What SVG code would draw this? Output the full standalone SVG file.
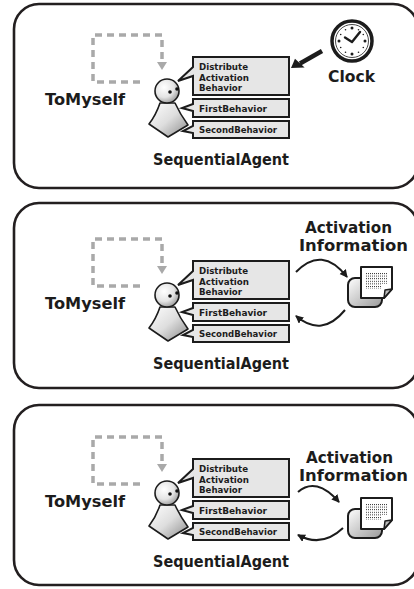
<svg xmlns="http://www.w3.org/2000/svg" width="414" height="589" viewBox="0 0 414 589">
  <style>
    .panel { fill: #ffffff; stroke: #231f20; stroke-width: 2.6; }
    .label { font-family: "DejaVu Sans", "Liberation Sans", sans-serif; font-weight: bold; fill: #1c1c1c; }
    .big { font-size: 16px; }
    .small { font-size: 9px; }
    .box { fill: #e6e6e6; stroke: #1c1c1c; stroke-width: 2; stroke-linejoin: miter; }
    .loop { fill: none; stroke: #a9a9a9; stroke-width: 3.5; stroke-dasharray: 7 5; }
    .flow { fill: none; stroke: #1c1c1c; stroke-width: 2; marker-end: url(#head); }
  </style>
  <defs>
    <radialGradient id="headFill" cx="0.38" cy="0.35" r="0.75">
      <stop offset="0" stop-color="#ffffff"/>
      <stop offset="0.55" stop-color="#e4e4e4"/>
      <stop offset="1" stop-color="#8c8c8c"/>
    </radialGradient>
    <linearGradient id="bodyFill" x1="0" y1="0" x2="1" y2="1">
      <stop offset="0" stop-color="#ffffff"/>
      <stop offset="0.5" stop-color="#dedede"/>
      <stop offset="1" stop-color="#8a8a8a"/>
    </linearGradient>
    <linearGradient id="sheetFill" x1="0" y1="0" x2="1" y2="1">
      <stop offset="0" stop-color="#ffffff"/>
      <stop offset="1" stop-color="#9a9a9a"/>
    </linearGradient>
    <pattern id="dots" width="2" height="2.6" patternUnits="userSpaceOnUse">
      <rect width="1" height="1" fill="#333333"/>
    </pattern>
    <marker id="head" markerUnits="userSpaceOnUse" markerWidth="10" markerHeight="10" refX="7" refY="4" orient="auto">
      <path d="M0,0 L8,4 L0,8 Z" fill="#1c1c1c"/>
    </marker>

    <!-- agent with its self-loop and three behaviours, drawn once and reused per panel -->
    <g id="agentScene">
      <g class="toMyself">
        <path class="loop" d="M140,82 H93 V35 H162 V60"/>
        <path d="M157,62 L167,62 L162,70 Z" fill="#a9a9a9"/>
        <text class="label big" x="45" y="105" textLength="80" lengthAdjust="spacingAndGlyphs">ToMyself</text>
      </g>
      <g class="behaviors">
        <path class="box" d="M193,57 H289 V95 H193 V76 L178,81 L193,67 Z"/>
        <text class="label small" x="199" y="70" textLength="49" lengthAdjust="spacingAndGlyphs">Distribute</text>
        <text class="label small" x="199" y="80.5" textLength="50" lengthAdjust="spacingAndGlyphs">Activation</text>
        <text class="label small" x="199" y="91" textLength="43" lengthAdjust="spacingAndGlyphs">Behavior</text>
        <path class="box" d="M193,99 H289 V117 H193 V111 L182,108 L193,104 Z"/>
        <text class="label small" x="199" y="112" textLength="68" lengthAdjust="spacingAndGlyphs">FirstBehavior</text>
        <path class="box" d="M193,121 H289 V138 H193 V133 L183,131 L193,126 Z"/>
        <text class="label small" x="199" y="133" textLength="78" lengthAdjust="spacingAndGlyphs">SecondBehavior</text>
      </g>
      <g class="person">
        <path d="M160,103 Q156,115 149,124 L168,137 L188,125 Q180,114 175,103 Z" fill="url(#bodyFill)" stroke="#1c1c1c" stroke-width="1.6" stroke-linejoin="round"/>
        <circle cx="167" cy="91" r="12" fill="url(#headFill)" stroke="#1c1c1c" stroke-width="1.6"/>
        <circle cx="170" cy="92" r="1.8" fill="#111"/>
        <circle cx="177" cy="89" r="1.8" fill="#111"/>
      </g>
      <text class="label big" x="153" y="165" textLength="136" lengthAdjust="spacingAndGlyphs">SequentialAgent</text>
    </g>

    <!-- activation information sheet -->
    <g id="sheet">
      <rect x="348" y="278" width="34" height="29" rx="7" fill="url(#sheetFill)" stroke="#1c1c1c" stroke-width="2"/>
      <path d="M361,267 H392 V289 L384,298 H361 Z" fill="#ffffff" stroke="#1c1c1c" stroke-width="2" stroke-linejoin="round"/>
      <path d="M392,289 L385,290 L384,298 Z" fill="#bdbdbd" stroke="#1c1c1c" stroke-width="1.5" stroke-linejoin="round"/>
      <rect x="366" y="272" width="21" height="12" fill="url(#dots)"/>
      <rect x="366" y="284" width="15" height="5" fill="url(#dots)"/>
    </g>
  </defs>

  <!-- panel frames -->
  <g id="frames">
    <rect class="panel" x="14" y="4" width="404" height="184" rx="25"/>
    <rect class="panel" x="14" y="203" width="404" height="185" rx="25"/>
    <rect class="panel" x="14" y="405" width="404" height="180" rx="25"/>
  </g>

  <!-- panel 1: clock triggers the agent -->
  <g id="agent1"><use href="#agentScene"/></g>
  <g id="clock">
    <circle cx="352" cy="41" r="20" fill="#ffffff" stroke="#1c1c1c" stroke-width="3.5"/>
    <circle cx="352" cy="41" r="16.5" fill="none" stroke="#1c1c1c" stroke-width="0.8"/>
    <g fill="#1c1c1c">
      <circle cx="352" cy="28" r="1.5"/>
      <circle cx="365" cy="41" r="1.5"/>
      <circle cx="352" cy="54" r="1.5"/>
      <circle cx="339" cy="41" r="1.5"/>
      <circle cx="358.5" cy="29.7" r="0.8"/>
      <circle cx="363.3" cy="34.5" r="0.8"/>
      <circle cx="363.3" cy="47.5" r="0.8"/>
      <circle cx="358.5" cy="52.3" r="0.8"/>
      <circle cx="345.5" cy="52.3" r="0.8"/>
      <circle cx="340.7" cy="47.5" r="0.8"/>
      <circle cx="340.7" cy="34.5" r="0.8"/>
      <circle cx="345.5" cy="29.7" r="0.8"/>
    </g>
    <path d="M345,37.5 L352,42 L360,32" fill="none" stroke="#1c1c1c" stroke-width="2.4" stroke-linecap="round" stroke-linejoin="round"/>
    <text class="label big" x="328" y="82" textLength="47" lengthAdjust="spacingAndGlyphs">Clock</text>
  </g>

  <!-- panel 2: activation information exchanged -->
  <g id="agent2" transform="translate(0,204)"><use href="#agentScene"/></g>
  <g id="info2">
    <use href="#sheet"/>
    <text class="label big" x="305" y="233" textLength="87" lengthAdjust="spacingAndGlyphs">Activation</text>
    <text class="label big" x="299" y="251" textLength="109" lengthAdjust="spacingAndGlyphs">Information</text>
  </g>

  <!-- panel 3: activation information exchanged lower down -->
  <g id="agent3" transform="translate(0,402)"><use href="#agentScene"/></g>
  <g id="info3">
    <use href="#sheet" transform="translate(0,231)"/>
    <text class="label big" x="306" y="463" textLength="87" lengthAdjust="spacingAndGlyphs">Activation</text>
    <text class="label big" x="299" y="481" textLength="109" lengthAdjust="spacingAndGlyphs">Information</text>
  </g>

  <!-- connectors -->
  <g id="connectors">
    <line x1="322" y1="51" x2="300" y2="63.5" stroke="#1c1c1c" stroke-width="4.5"/>
    <path d="M291,68 L304.6,67.6 L295,58.8 Z" fill="#1c1c1c"/>
    <path class="flow" d="M296,272 Q322,245 347,277"/>
    <path class="flow" d="M345,310 Q322,338 296,316"/>
    <path class="flow" d="M298,492 Q316,476 339,502"/>
    <path class="flow" d="M343,528 Q322,548 298,535"/>
  </g>
</svg>
